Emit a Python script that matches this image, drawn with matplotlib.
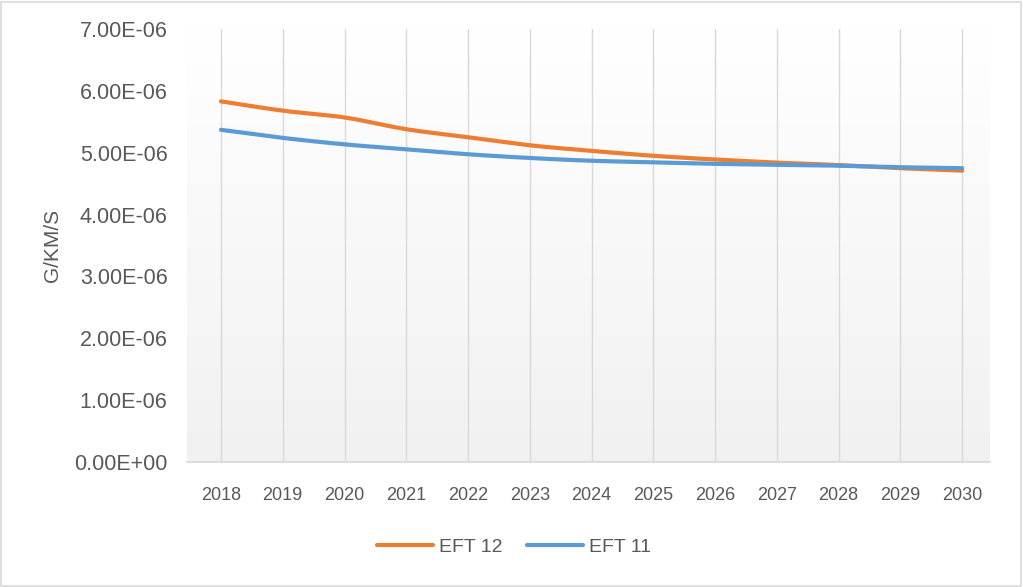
import numpy as np
import matplotlib.pyplot as plt
from matplotlib.patches import Rectangle

# Daten
jahre = [2018, 2019, 2020, 2021, 2022, 2023, 2024, 2025, 2026, 2027, 2028, 2029, 2030]
eft12 = [5.83e-6, 5.68e-6, 5.57e-6, 5.38e-6, 5.25e-6, 5.12e-6, 5.03e-6,
         4.95e-6, 4.89e-6, 4.84e-6, 4.80e-6, 4.75e-6, 4.71e-6]
eft11 = [5.37e-6, 5.24e-6, 5.135e-6, 5.055e-6, 4.975e-6, 4.915e-6, 4.87e-6,
         4.845e-6, 4.82e-6, 4.805e-6, 4.79e-6, 4.765e-6, 4.75e-6]
y_ticks = [0, 1e-6, 2e-6, 3e-6, 4e-6, 5e-6, 6e-6, 7e-6]
y_labels = ['0.00E+00', '1.00E-06', '2.00E-06', '3.00E-06',
            '4.00E-06', '5.00E-06', '6.00E-06', '7.00E-06']

ORANGE = '#ED7D31'
BLAU = '#5B9BD5'
GRAU_TEXT = '#595959'


def glaetten(x, y, n=20):
    """Catmull-Rom-Glättung wie bei Excel 'geglättete Linie'."""
    x = np.asarray(x, float)
    y = np.asarray(y, float)
    px = np.concatenate([[2 * x[0] - x[1]], x, [2 * x[-1] - x[-2]]])
    py = np.concatenate([[2 * y[0] - y[1]], y, [2 * y[-1] - y[-2]]])
    xs, ys = [], []
    t = np.linspace(0, 1, n, endpoint=False)
    for i in range(1, len(px) - 2):
        for p, out in ((px, xs), (py, ys)):
            p0, p1, p2, p3 = p[i - 1], p[i], p[i + 1], p[i + 2]
            out.extend(0.5 * (2 * p1 + (-p0 + p2) * t
                              + (2 * p0 - 5 * p1 + 4 * p2 - p3) * t ** 2
                              + (-p0 + 3 * p1 - 3 * p2 + p3) * t ** 3))
    xs.append(x[-1])
    ys.append(y[-1])
    return np.array(xs), np.array(ys)


plt.rcParams['font.family'] = ['Liberation Sans', 'DejaVu Sans']

fig = plt.figure(figsize=(10.23, 5.87), dpi=100)
ax = fig.add_axes([187 / 1023, 1 - 462 / 587, (990 - 187) / 1023, (462 - 29) / 587])

# Verlaufshintergrund (oben weiss, unten hellgrau)
verlauf = np.linspace(1.0, 0.945, 256).reshape(-1, 1)
ax.imshow(np.dstack([verlauf] * 3), extent=[0, 1, 0, 1], transform=ax.transAxes,
          aspect='auto', zorder=0, interpolation='bicubic')

xg, yg = glaetten(jahre, eft12)
ax.plot(xg, yg, color=ORANGE, linewidth=3, solid_capstyle='round', label='EFT 12', zorder=3)
xg, yg = glaetten(jahre, eft11)
ax.plot(xg, yg, color=BLAU, linewidth=3, solid_capstyle='round', label='EFT 11', zorder=3)

ax.set_xlim(2017.45, 2030.45)
ax.set_ylim(0, 7e-6)
ax.set_xticks(jahre)
ax.set_yticks(y_ticks)
ax.set_yticklabels(y_labels)

ax.grid(True, axis='x', color='#d9d9d9', linewidth=1, zorder=1)
ax.set_axisbelow(True)
for s in ['top', 'right', 'left']:
    ax.spines[s].set_visible(False)
ax.spines['bottom'].set_color('#d9d9d9')
ax.spines['bottom'].set_linewidth(1.2)
ax.tick_params(axis='both', length=0, colors=GRAU_TEXT)
ax.tick_params(axis='x', pad=18, labelsize=13)
ax.tick_params(axis='y', pad=14, labelsize=15.5)

ax.set_ylabel('G/KM/S', fontsize=15, color=GRAU_TEXT, labelpad=9)

leg = fig.legend(loc='center', bbox_to_anchor=(514 / 1023, 1 - 547 / 587), ncol=2, frameon=False,
                 fontsize=14, handlelength=2.9, handletextpad=0.3, columnspacing=1.25)
for text in leg.get_texts():
    text.set_color(GRAU_TEXT)

# Rahmen um das Diagramm
fig.patches.append(Rectangle((0.001, 0.002), 0.997, 0.995, transform=fig.transFigure,
                             fill=False, edgecolor='#d9d9d9', linewidth=1.2))

fig.savefig('out.png', dpi=100)
